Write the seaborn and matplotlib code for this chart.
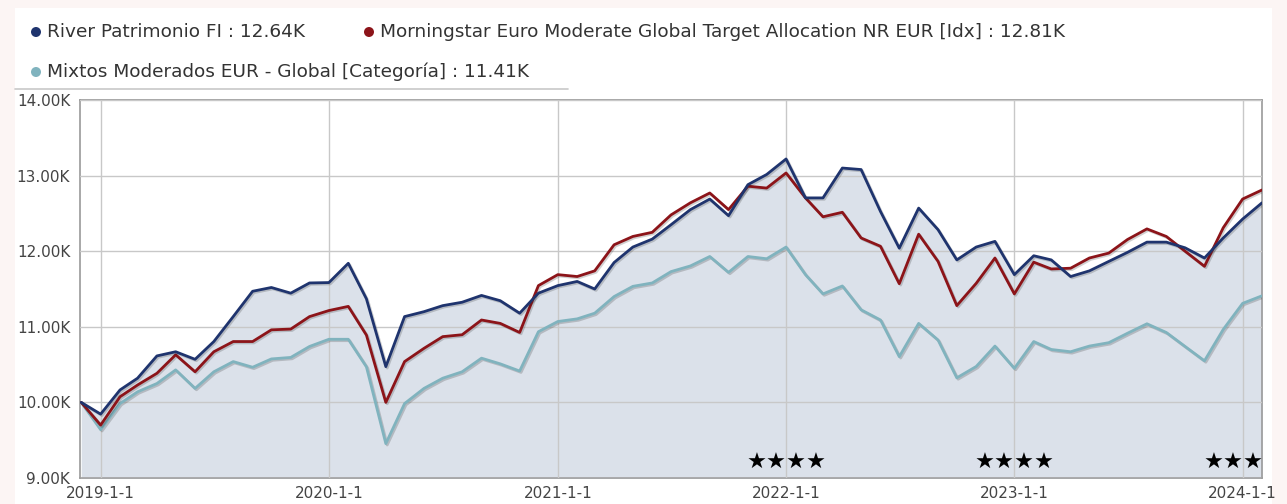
import numpy as np
import pandas as pd
import matplotlib
matplotlib.use("Agg")
import matplotlib.pyplot as plt
import matplotlib.dates as mdates
import matplotlib.patheffects as pe
import seaborn as sns

# ---------------- data ----------------
dates = pd.date_range("2018-12-01", "2024-02-01", freq="MS")

river = [10000, 9845, 10165, 10320, 10615, 10670, 10570, 10805, 11135, 11470,
         11520, 11445, 11580, 11585, 11840, 11370, 10473, 11135, 11200, 11280,
         11325, 11415, 11345, 11180, 11445, 11545, 11600, 11500, 11850, 12055,
         12160, 12350, 12550, 12690, 12470, 12880, 13015, 13220, 12705, 12705,
         13100, 13080, 12525, 12040, 12570, 12285, 11885, 12055, 12130, 11690,
         11940, 11885, 11665, 11740, 11865, 11985, 12120, 12120, 12045, 11910,
         12175, 12425, 12640]

morningstar = [10000, 9700, 10075, 10230, 10385, 10630, 10405, 10670, 10805, 10805,
               10960, 10970, 11135, 11215, 11270, 10890, 10000, 10540, 10715, 10870,
               10895, 11090, 11045, 10925, 11545, 11690, 11665, 11740, 12085, 12195,
               12250, 12480, 12640, 12770, 12550, 12860, 12835, 13035, 12705, 12455,
               12515, 12175, 12065, 11570, 12225, 11865, 11280, 11575, 11910, 11435,
               11855, 11765, 11775, 11910, 11975, 12155, 12295, 12195, 12000, 11800,
               12310, 12690, 12810]

mixtos = [10000, 9640, 9985, 10140, 10250, 10430, 10185, 10405, 10540, 10465,
          10575, 10595, 10740, 10835, 10835, 10470, 9455, 9985, 10185, 10320,
          10405, 10585, 10510, 10415, 10935, 11070, 11105, 11180, 11400, 11535,
          11580, 11730, 11805, 11930, 11720, 11930, 11900, 12055, 11690, 11435,
          11540, 11225, 11090, 10605, 11045, 10825, 10325, 10475, 10745, 10450,
          10805, 10700, 10670, 10745, 10790, 10915, 11040, 10925, 10740, 10550,
          10965, 11310, 11410]

series_names = ["River Patrimonio FI",
                "Morningstar Euro Moderate Global Target Allocation NR EUR [Idx]",
                "Mixtos Moderados EUR - Global [Categoría]"]
legend_values = ["12.64K", "12.81K", "11.41K"]
colors = ["#1f346e", "#8c1419", "#80b3be"]

y_ticks = [9000, 10000, 11000, 12000, 13000, 14000]
y_ticklabels = ["9.00K", "10.00K", "11.00K", "12.00K", "13.00K", "14.00K"]
x_ticks = ["2019-01-01", "2020-01-01", "2021-01-01", "2022-01-01", "2023-01-01", "2024-01-01"]
x_ticklabels = ["2019-1-1", "2020-1-1", "2021-1-1", "2022-1-1", "2023-1-1", "2024-1-1"]

star_dates = ["2022-01-01", "2023-01-01", "2023-12-17"]
star_labels = ["★★★★", "★★★★", "★★★"]

# ---------------- figure ----------------
sns.set_theme(style="white")
plt.rcParams["font.family"] = ["DejaVu Sans"]

fig = plt.figure(figsize=(12.87, 5.04), dpi=100, facecolor="#fcf5f4")
# white panel behind everything
panel = plt.Rectangle((15 / 1287, 0), 1257 / 1287, 496 / 504,
                      transform=fig.transFigure, facecolor="white",
                      edgecolor="none", zorder=-10)
fig.add_artist(panel)

ax = fig.add_axes([80 / 1287, 26 / 504, 1182 / 1287, 378 / 504])
ax.set_zorder(1)
ax.set_facecolor("white")

df = pd.DataFrame({
    "date": np.tile(dates, 3),
    "value": np.concatenate([river, morningstar, mixtos]),
    "series": np.repeat(series_names, len(dates)),
})

ax.fill_between(dates, river, 9000, color="#dbe1ea", zorder=1, linewidth=0)

sns.lineplot(data=df, x="date", y="value", hue="series",
             hue_order=[series_names[2], series_names[1], series_names[0]],
             palette={series_names[0]: colors[0], series_names[1]: colors[1],
                      series_names[2]: colors[2]},
             linewidth=2.0, legend=False, ax=ax, zorder=3)

for line in ax.get_lines():
    line.set_path_effects([pe.SimpleLineShadow(offset=(1, -1), alpha=0.2),
                           pe.Normal()])

ax.set_xlim(pd.Timestamp("2018-11-29"), pd.Timestamp("2024-02-01"))
ax.set_ylim(9000, 14000)
ax.set_yticks(y_ticks)
ax.set_yticklabels(y_ticklabels)
ax.set_xticks(pd.to_datetime(x_ticks))
ax.set_xticklabels(x_ticklabels)
ax.set_xlabel("")
ax.set_ylabel("")
ax.tick_params(axis="both", length=0, labelsize=11, colors="#444444")
ax.tick_params(axis="y", pad=7)
ax.tick_params(axis="x", pad=6)
ax.grid(True, color="#c8c8c8", linewidth=1.0)
ax.set_axisbelow(False)
for gl in ax.get_xgridlines() + ax.get_ygridlines():
    gl.set_zorder(2)
for s in ax.spines.values():
    s.set_color("#9a9a9a")
    s.set_linewidth(1.2)
    s.set_visible(True)

# rating stars
trans = matplotlib.transforms.blended_transform_factory(ax.transData, ax.transAxes)
for d, s in zip(star_dates, star_labels):
    ax.text(mdates.date2num(pd.Timestamp(d)), 0.04, s, transform=trans,
            ha="center", va="center", fontsize=16, color="black", zorder=5)

# legend (custom)
legend_items = [(36, 32, 0), (369, 32, 1), (36, 72, 2)]
for x, y, k in legend_items:
    fig.add_artist(matplotlib.patches.Ellipse(
        (x / 1287, 1 - y / 504), 10 / 1287, 10 / 504, transform=fig.transFigure,
        facecolor=colors[k], edgecolor="none", zorder=3))
    fig.text((x + 11) / 1287, 1 - y / 504,
             f"{series_names[k]} : {legend_values[k]}",
             ha="left", va="center", fontsize=13.3, color="#333333")

fig.add_artist(matplotlib.lines.Line2D([15 / 1287, 568 / 1287],
                                       [1 - 89 / 504, 1 - 89 / 504],
                                       transform=fig.transFigure,
                                       color="#c8c8c8", linewidth=1.2))

fig.savefig("out.png", dpi=100, facecolor=fig.get_facecolor())
